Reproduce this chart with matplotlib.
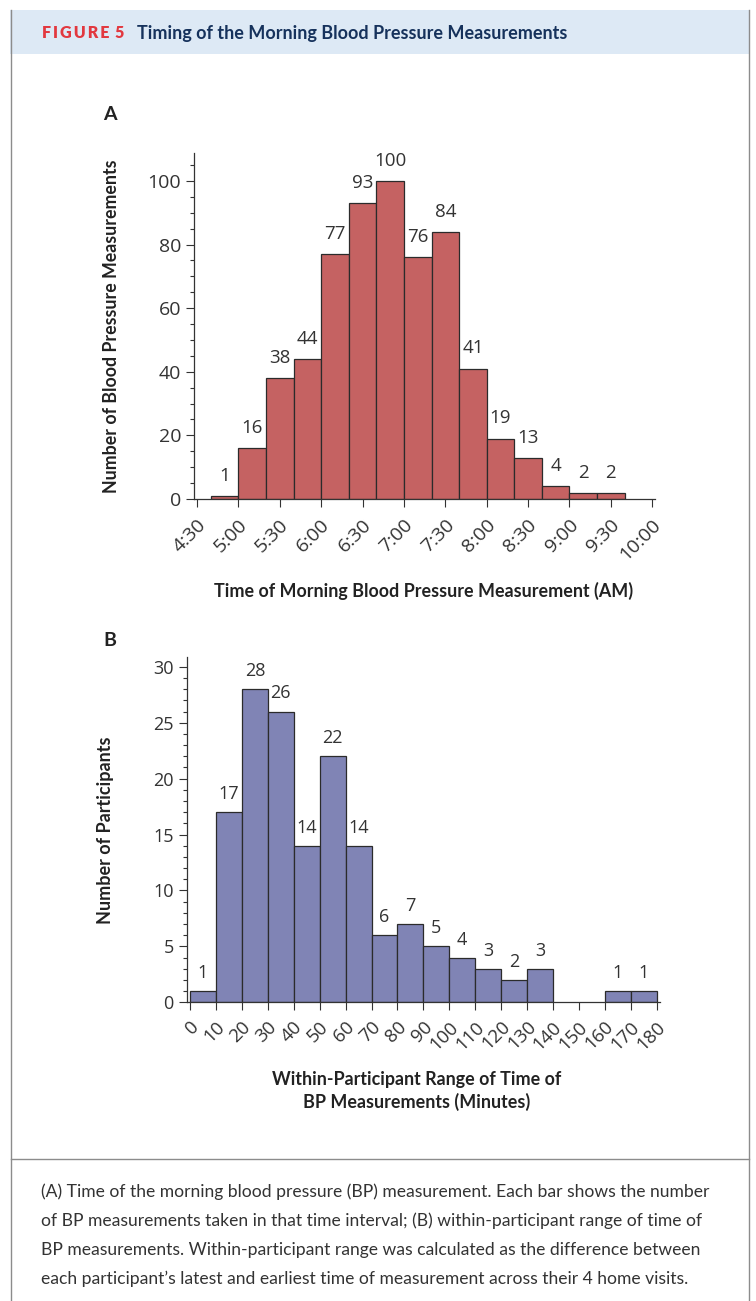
import matplotlib.pyplot as plt
from matplotlib.patches import Rectangle
from matplotlib.lines import Line2D
from matplotlib.transforms import ScaledTranslation

# Panel A: morning BP measurement times, 20-minute bins
time_edges = ["4:40", "5:00", "5:20", "5:40", "6:00", "6:20", "6:40", "7:00",
              "7:20", "7:40", "8:00", "8:20", "8:40", "9:00", "9:20", "9:40"]
time_counts = [1, 16, 38, 44, 77, 93, 100, 76, 84, 41, 19, 13, 4, 2, 2]
time_ticks = ["4:30", "5:00", "5:30", "6:00", "6:30", "7:00", "7:30",
              "8:00", "8:30", "9:00", "9:30", "10:00"]

# Panel B: within-participant range of measurement time (minutes)
range_edges = [0, 10, 20, 30, 40, 50, 60, 70, 80, 90, 100, 110, 120, 130,
               140, 150, 160, 170, 180]
range_counts = [1, 17, 28, 26, 14, 22, 14, 6, 7, 5, 4, 3, 2, 3, 0, 0, 1, 1]

caption = [
    "(A) Time of the morning blood pressure (BP) measurement. Each bar shows the number",
    "of BP measurements taken in that time interval; (B) within-participant range of time of",
    "BP measurements. Within-participant range was calculated as the difference between",
    "each participant\u2019s latest and earliest time of measurement across their 4 home visits.",
]

W, H = 756, 1301
NUM_FONT = "Open Sans"
LAB_FONT = "Lato"
TXT = "#333333"


def fx(px):
    return px / W


def fy(py):
    return 1 - py / H


def minutes(t):
    h, m = t.split(":")
    return int(h) * 60 + int(m)


def style_axes(ax):
    for side in ("top", "right"):
        ax.spines[side].set_visible(False)
    for side in ("left", "bottom"):
        ax.spines[side].set_color("#333333")
        ax.spines[side].set_linewidth(0.9)
    ax.tick_params(which="major", direction="out", length=5.8, width=0.8,
                   color="#333333", labelcolor=TXT)
    ax.tick_params(which="minor", direction="out", length=2.9, width=0.8,
                   color="#333333")
    ax.tick_params(axis="x", which="minor", length=0)


def nudge_xlabels(ax, fig, dx=0.06):
    # shift the slanted tick labels a little to the right
    for lab in ax.get_xticklabels():
        lab.set_transform(lab.get_transform() +
                          ScaledTranslation(dx, 0, fig.dpi_scale_trans))


fig = plt.figure(figsize=(W / 100, H / 100), dpi=100)

# header band and frame
fig.patches.append(Rectangle((fx(10), fy(54)), fx(740), 44 / H,
                             transform=fig.transFigure, facecolor="#dde9f5",
                             edgecolor="none", zorder=0))
for xs, ys in [((11, 11), (10, H)), ((749, 749), (10, H)), ((11, 749), (1159, 1159))]:
    fig.add_artist(Line2D([fx(x) for x in xs], [fy(y) for y in ys],
                          color="#8c8c8c", lw=1.0, transform=fig.transFigure))
fig.text(fx(42), fy(33), "\u2009".join("FIGURE"),
         color="#e2383f", fontsize=11.5, fontweight="heavy",
         family=[LAB_FONT, "DejaVu Sans"], va="center")
fig.text(fx(114), fy(33), "5", color="#e2383f", fontsize=11.5,
         fontweight="heavy", family=LAB_FONT, va="center")
fig.text(fx(137), fy(33), "Timing of the Morning Blood Pressure Measurements",
         color="#16325c", fontsize=13, fontweight="bold", family=LAB_FONT,
         va="center")

# ---- panel A ----
axA = fig.add_axes([fx(194), fy(499), (655 - 194) / W, (499 - 153) / H])
starts = [minutes(t) for t in time_edges[:-1]]
axA.bar(starts, time_counts, width=20, align="edge", color="#c56262",
        edgecolor="#2b2b2b", linewidth=0.9)
for s, v in zip(starts, time_counts):
    axA.annotate(str(v), (s + 10, v), xytext=(0, 14.5), textcoords="offset points",
                 ha="center", va="center", fontsize=13.5, color=TXT,
                 family=NUM_FONT)
axA.set_xlim(267.8, 602)
axA.set_ylim(0, 108.8)
axA.set_yticks(range(0, 101, 20))
axA.set_yticks(range(0, 106, 5), minor=True)
axA.set_xticks([minutes(t) for t in time_ticks])
axA.set_xticklabels(time_ticks, rotation=45, ha="right", va="center",
                    rotation_mode="anchor", family=NUM_FONT, fontsize=14)
style_axes(axA)
axA.tick_params(axis="y", labelsize=14, pad=3.5)
for lab in axA.get_yticklabels():
    lab.set_family(NUM_FONT)
axA.tick_params(axis="x", pad=11)
nudge_xlabels(axA, fig)

fig.text(fx(110), fy(115), "A", fontsize=14, fontweight="bold",
         family=LAB_FONT, color="#222222", ha="center", va="center")
fig.text(fx(112), fy(326), "Number of Blood Pressure Measurements",
         rotation=90, fontsize=12.8, fontweight="bold", family=LAB_FONT,
         color="#222222", ha="center", va="center")
fig.text(fx(424), fy(591), "Time of Morning Blood Pressure Measurement (AM)",
         fontsize=12.9, fontweight="bold", family=LAB_FONT, color="#222222",
         ha="center", va="center")

# ---- panel B ----
axB = fig.add_axes([fx(186.7), fy(1002.3), (660 - 186.7) / W, (1002.3 - 656.7) / H])
for left, v in zip(range_edges[:-1], range_counts):
    if v == 0:
        continue
    axB.bar(left, v, width=10, align="edge", color="#8084b5",
            edgecolor="#2b2b2b", linewidth=0.9)
    axB.annotate(str(v), (left + 5, v), xytext=(0, 13), textcoords="offset points",
                 ha="center", va="center", fontsize=13, color=TXT,
                 family=NUM_FONT)
axB.set_xlim(-1.3, 181.3)
axB.set_ylim(0, 30.9)
axB.set_yticks(range(0, 31, 5))
axB.set_yticks(range(0, 31), minor=True)
axB.set_xticks(range_edges)
axB.set_xticklabels([str(e) for e in range_edges], rotation=45, ha="right",
                    va="center", rotation_mode="anchor", family=NUM_FONT,
                    fontsize=13.5)
style_axes(axB)
axB.tick_params(axis="y", labelsize=13, pad=3.5)
for lab in axB.get_yticklabels():
    lab.set_family(NUM_FONT)
axB.tick_params(axis="x", pad=10)
nudge_xlabels(axB, fig)

fig.text(fx(110), fy(640), "B", fontsize=14, fontweight="bold",
         family=LAB_FONT, color="#222222", ha="center", va="center")
fig.text(fx(105), fy(830), "Number of Participants", rotation=90,
         fontsize=13, fontweight="bold", family=LAB_FONT, color="#222222",
         ha="center", va="center")
fig.text(fx(417), fy(1080), "Within-Participant Range of Time of",
         fontsize=12.9, fontweight="bold", family=LAB_FONT, color="#222222",
         ha="center", va="center")
fig.text(fx(417), fy(1102), "BP Measurements (Minutes)",
         fontsize=12.9, fontweight="bold", family=LAB_FONT, color="#222222",
         ha="center", va="center")

# caption
for i, line in enumerate(caption):
    fig.text(fx(41), fy(1192 + 29 * i), line, fontsize=12.6, family=LAB_FONT,
             color="#333333", va="center")

fig.savefig("out.png", dpi=100)
